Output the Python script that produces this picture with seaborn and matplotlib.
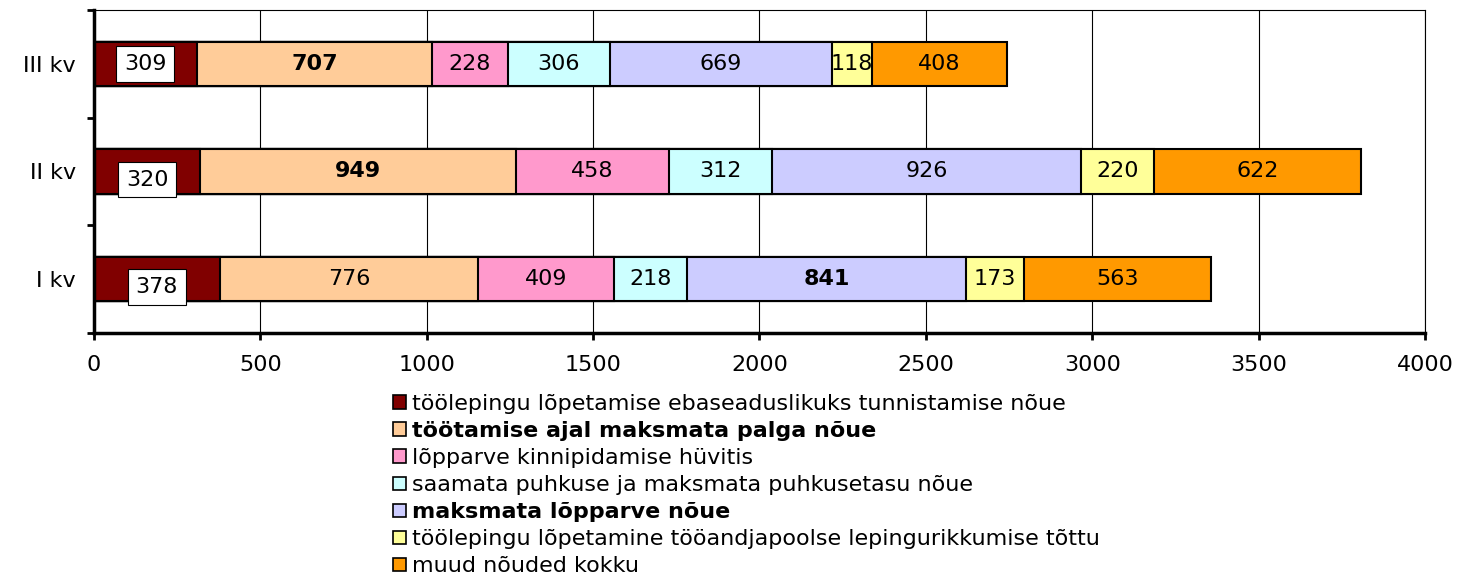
import numpy as np
import pandas as pd
import matplotlib
matplotlib.use('Agg')
import matplotlib.pyplot as plt
import seaborn as sns
from matplotlib.patches import Patch

# data
quarters = ['III kv', 'II kv', 'I kv']
series = [
    'töölepingu lõpetamise ebaseaduslikuks tunnistamise nõue',
    'töötamise ajal maksmata palga nõue',
    'lõpparve kinnipidamise hüvitis',
    'saamata puhkuse ja maksmata puhkusetasu nõue',
    'maksmata lõpparve nõue',
    'töölepingu lõpetamine tööandjapoolse lepingurikkumise tõttu',
    'muud nõuded kokku',
]
colors = ['#800000', '#FFCC99', '#FF99CC', '#CCFFFF', '#CCCCFF', '#FFFF99', '#FF9900']
values_III = [309, 707, 228, 306, 669, 118, 408]
values_II = [320, 949, 458, 312, 926, 220, 622]
values_I = [378, 776, 409, 218, 841, 173, 563]
bold_series = [1, 4]          # legend entries in bold
bold_labels = {'III kv': 1, 'II kv': 1, 'I kv': 4}

sns.set_theme(style='white')
plt.rcParams['font.family'] = ['DejaVu Sans']
for k in ['text.color', 'axes.labelcolor', 'xtick.color', 'ytick.color']:
    plt.rcParams[k] = 'black'

FS = 16

df = pd.DataFrame([values_III, values_II, values_I], index=quarters, columns=series)
cum = df.cumsum(axis=1)

fig = plt.figure(figsize=(14.59, 5.78), dpi=100)
ax = fig.add_axes([0.0644, 0.4239, 0.9123, 0.5588])

# stacked bars: draw cumulative totals from the largest down
for i in range(len(series) - 1, -1, -1):
    d = pd.DataFrame({'kv': quarters, 'val': cum.iloc[:, i].values})
    sns.barplot(data=d, x='val', y='kv', order=quarters, color=colors[i],
                saturation=1, width=0.41, edgecolor='black', linewidth=1.5, ax=ax)

# value labels
for r, q in enumerate(quarters):
    for i, s in enumerate(series):
        v = df.loc[q, s]
        xc = cum.loc[q, s] - v / 2
        weight = 'bold' if bold_labels[q] == i else 'normal'
        if i == 0:
            dy = 0 if r == 0 else 0.075
            ax.text(xc, r + dy, str(v), ha='center', va='center', fontsize=FS,
                    bbox=dict(boxstyle='square,pad=0.35', fc='white', ec='black', lw=0.8))
        else:
            ax.text(xc, r, str(v), ha='center', va='center', fontsize=FS, fontweight=weight)

ax.set_xlim(0, 4000)
ax.set_ylim(2.5, -0.5)
ax.set_xticks(np.arange(0, 4001, 500))
ax.grid(axis='x', color='black', linewidth=0.8)
ax.set_axisbelow(True)
ax.set_xlabel('')
ax.set_ylabel('')

for side in ['top', 'right']:
    ax.spines[side].set_color('black')
    ax.spines[side].set_linewidth(0.8)
for side in ['left', 'bottom']:
    ax.spines[side].set_color('black')
    ax.spines[side].set_linewidth(2.5)

ax.tick_params(axis='x', direction='out', length=5, width=2, color='black',
               labelsize=FS, pad=11, bottom=True)
ax.tick_params(axis='y', which='major', length=0, labelsize=FS, pad=13)
ax.set_yticks([-0.5, 0.5, 1.5, 2.5], minor=True)
ax.tick_params(axis='y', which='minor', direction='out', length=5, width=2,
               color='black', left=True)

handles = [Patch(facecolor=c, edgecolor='black', linewidth=1.2) for c in colors]
leg = fig.legend(handles, series, loc='upper left', bbox_to_anchor=(0.262, 0.338),
                 frameon=False, fontsize=FS, handlelength=0.55, handleheight=0.55,
                 handletextpad=0.3, labelspacing=0.32, borderpad=0)
for i in bold_series:
    leg.get_texts()[i].set_fontweight('bold')

fig.savefig('out.png', dpi=100)
